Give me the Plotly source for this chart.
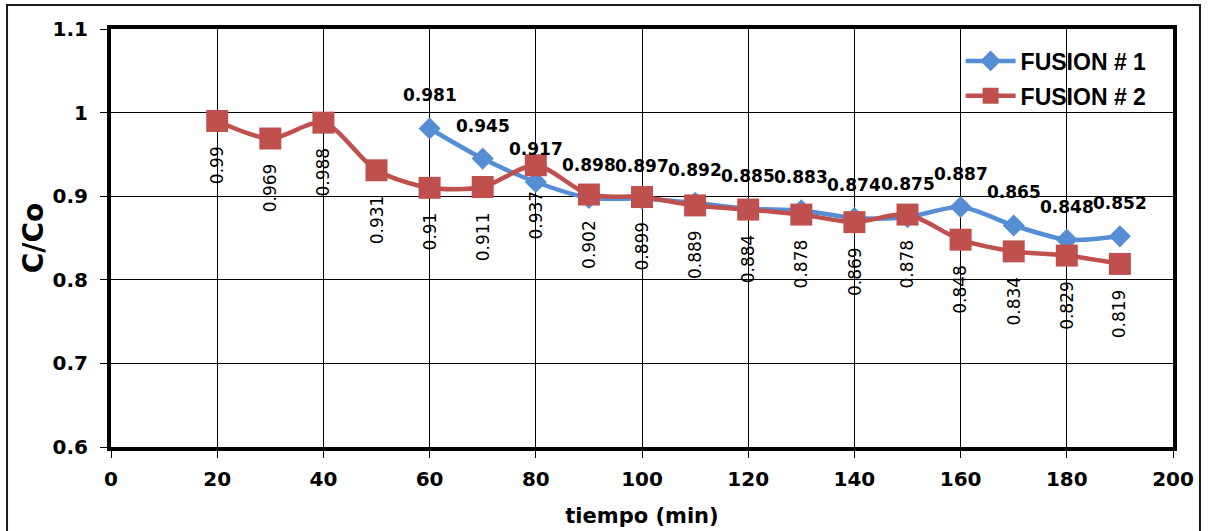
import plotly.graph_objects as go

# Time axis (min) and measured C/Co ratios for each fusion run
tiempo_f1 = [60, 70, 80, 90, 100, 110, 120, 130, 140, 150, 160, 170, 180, 190]
fusion1 = [0.981, 0.945, 0.917, 0.898, 0.897, 0.892, 0.885, 0.883, 0.874, 0.875,
           0.887, 0.865, 0.848, 0.852]

tiempo_f2 = [20, 30, 40, 50, 60, 70, 80, 90, 100, 110, 120, 130, 140, 150, 160,
             170, 180, 190]
fusion2 = [0.99, 0.969, 0.988, 0.931, 0.91, 0.911, 0.937, 0.902, 0.899, 0.889,
           0.884, 0.878, 0.869, 0.878, 0.848, 0.834, 0.829, 0.819]

x_ticks = [0, 20, 40, 60, 80, 100, 120, 140, 160, 180, 200]
y_ticks = [0.6, 0.7, 0.8, 0.9, 1.0, 1.1]

BLUE = "#558ED5"
RED = "#C0504D"
NUM_FONT = "DejaVu Sans"

fig = go.Figure()

fig.add_trace(go.Scatter(
    x=tiempo_f1, y=fusion1, name="FUSION # 1", mode="lines+markers",
    line=dict(color=BLUE, width=4.5, shape="spline", smoothing=0.8),
    marker=dict(symbol="diamond", size=17, color=BLUE),
    legendgroup="f1",
))
fig.add_trace(go.Scatter(
    x=tiempo_f2, y=fusion2, name="FUSION # 2", mode="lines+markers",
    line=dict(color=RED, width=4.5, shape="spline", smoothing=0.8),
    marker=dict(symbol="square", size=22, color=RED),
    legendgroup="f2",
))

annotations = []
# Values of run 1 written above the markers
for x, y in zip(tiempo_f1, fusion1):
    annotations.append(dict(
        x=x, y=y, xref="x", yref="y", text=f"{y:g}", showarrow=False,
        xanchor="center", yanchor="middle", yshift=33,
        font=dict(family=NUM_FONT, size=17, color="black", weight="bold"),
    ))
# Values of run 2 written vertically below the markers
for x, y in zip(tiempo_f2, fusion2):
    annotations.append(dict(
        x=x, y=y, xref="x", yref="y", text=f"{y:g}", showarrow=False,
        textangle=-90, xanchor="center", yanchor="top", yshift=-23,
        font=dict(family=NUM_FONT, size=17, color="black"),
    ))

axis_common = dict(
    showline=True, linecolor="black", linewidth=4, mirror=True,
    showgrid=True, gridcolor="black", gridwidth=1,
    ticks="outside", ticklen=7, tickwidth=1, tickcolor="black",
    tickfont=dict(family=NUM_FONT, size=20, color="black", weight="bold"),
    zeroline=False, automargin=False,
)

fig.update_layout(
    width=1209, height=531,
    margin=dict(l=111, r=36, t=29, b=84),
    paper_bgcolor="white", plot_bgcolor="white",
    xaxis=dict(
        range=[0, 200], tickvals=x_ticks, ticklabelstandoff=4,
        title=dict(text="tiempo (min)", standoff=19,
                   font=dict(family=NUM_FONT, size=21, color="black", weight="bold")),
        **axis_common,
    ),
    yaxis=dict(
        range=[0.6, 1.1], tickvals=y_ticks, ticklabelstandoff=8,
        ticktext=[f"{v:g}" for v in y_ticks],
        title=dict(text="C/Co", standoff=2,
                   font=dict(family=NUM_FONT, size=28, color="black", weight="bold")),
        **axis_common,
    ),
    legend=dict(
        x=0.8, y=0.975, xanchor="left", yanchor="top",
        bgcolor="rgba(0,0,0,0)", borderwidth=0,
        font=dict(family="Liberation Sans", size=23, color="black", weight="bold"),
        tracegroupgap=2, itemwidth=50,
    ),
    annotations=annotations,
    shapes=[dict(
        type="rect", xref="paper", yref="paper",
        x0=-0.0979, x1=1.0254, y0=-0.215, y1=1.0574,
        line=dict(color="#1a1a1a", width=2), fillcolor="rgba(0,0,0,0)",
        layer="below",
    )],
    showlegend=True,
)

fig.write_html("out.html")
